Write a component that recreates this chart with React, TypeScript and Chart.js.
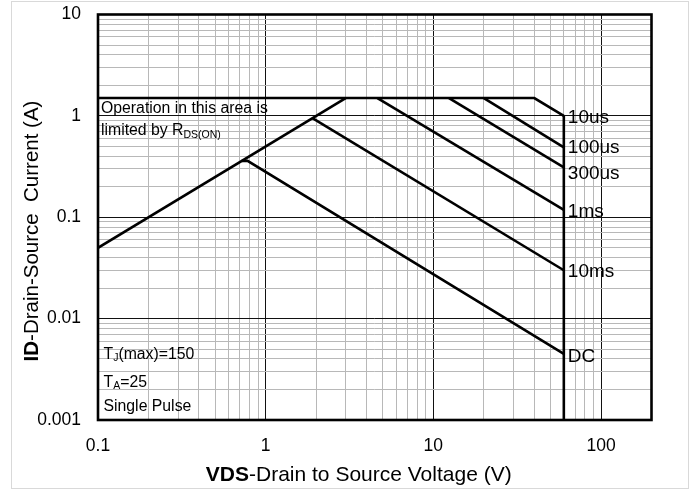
import React, { useEffect, useRef } from "react";
import { Chart, registerables } from "chart.js";

Chart.register(...registerables);

// ---- data ----
const xTickValues = [0.1, 1, 10, 100];
const xTickLabels = ["0.1", "1", "10", "100"];
const yTickValues = [0.001, 0.01, 0.1, 1, 10];
const yTickLabels = ["0.001", "0.01", "0.1", "1", "10"];

const rdsV = [0.1, 3.0];
const rdsI = [0.05, 1.5];
const us10V = [0.1, 40, 60];
const us10I = [1.5, 1.5, 1.0];
const us100V = [20, 60];
const us100I = [1.5, 0.49];
const us300V = [12.4, 60];
const us300I = [1.5, 0.31];
const ms1V = [4.64, 60];
const ms1I = [1.5, 0.118];
const ms10V = [1.9, 60];
const ms10I = [0.95, 0.03];
const dcV = [0.72, 0.78, 60];
const dcI = [0.36, 0.36, 0.0045];
const bvV = [60, 60];
const bvI = [1.0, 0.001];

const curveLabels = ["10us", "100us", "300us", "1ms", "10ms", "DC"];

const FONT = "'Liberation Sans', Arial, Helvetica, sans-serif";

function pts(v: number[], i: number[]) {
  return v.map((x, k) => ({ x, y: i[k] }));
}

function gridValues(min: number, max: number) {
  const out: number[] = [];
  const d0 = Math.floor(Math.log10(min) + 1e-9);
  const d1 = Math.ceil(Math.log10(max) - 1e-9);
  for (let d = d0; d <= d1; d++) {
    for (let m = 1; m <= 9; m++) {
      const v = m * Math.pow(10, d);
      if (v >= min * 0.999 && v <= max * 1.001) out.push(v);
    }
  }
  return out;
}

function isMajor(v: number) {
  const l = Math.log10(v);
  return Math.abs(l - Math.round(l)) < 1e-6;
}

function labelFor(values: number[], labels: string[], v: number) {
  for (let k = 0; k < values.length; k++) {
    if (Math.abs(values[k] - v) / values[k] < 1e-6) return labels[k];
  }
  return "";
}

export default function App() {
  const ref = useRef<HTMLCanvasElement | null>(null);

  useEffect(() => {
    document.body.style.margin = "0";
    const canvas = ref.current;
    if (!canvas) return;

    const seriesList = [
      { name: "", data: pts(rdsV, rdsI) },
      { name: curveLabels[0], data: pts(us10V, us10I) },
      { name: curveLabels[1], data: pts(us100V, us100I) },
      { name: curveLabels[2], data: pts(us300V, us300I) },
      { name: curveLabels[3], data: pts(ms1V, ms1I) },
      { name: curveLabels[4], data: pts(ms10V, ms10I) },
      { name: curveLabels[5], data: pts(dcV, dcI) },
      { name: "", data: pts(bvV, bvI) },
    ];

    const labelDy: Record<string, number> = {
      "10us": 2,
      "100us": 0,
      "300us": 6,
      "1ms": 2,
      "10ms": 2,
      DC: 3,
    };

    const decor = {
      id: "decor",
      beforeDraw(chart: any) {
        const { ctx, width, height } = chart;
        ctx.save();
        ctx.fillStyle = "#ffffff";
        ctx.fillRect(0, 0, width, height);
        ctx.strokeStyle = "#d9d9d9";
        ctx.lineWidth = 1;
        ctx.strokeRect(11.5, 1.5, 677, 487);
        ctx.restore();
      },
      afterDatasetsDraw(chart: any) {
        const { ctx, chartArea: a, scales } = chart;
        const xs = scales.x;
        const ys = scales.y;
        ctx.save();
        // plot border
        ctx.strokeStyle = "#000";
        ctx.lineWidth = 2.6;
        ctx.strokeRect(a.left, a.top, a.right - a.left, a.bottom - a.top);

        ctx.fillStyle = "#000";
        // curve labels
        ctx.font = `19px ${FONT}`;
        ctx.textAlign = "left";
        ctx.textBaseline = "middle";
        seriesList.forEach((s) => {
          if (!s.name) return;
          const last = s.data[s.data.length - 1];
          const px = xs.getPixelForValue(last.x) + 4;
          const py = ys.getPixelForValue(last.y) + (labelDy[s.name] || 0);
          ctx.fillText(s.name, px, py);
        });

        // annotations
        ctx.textBaseline = "alphabetic";
        const main = `15.8px ${FONT}`;
        const sub = `10.5px ${FONT}`;
        const drawRuns = (x: number, y: number, runs: [string, boolean][]) => {
          let cx = x;
          runs.forEach(([t, isSub]) => {
            ctx.font = isSub ? sub : main;
            ctx.fillText(t, cx, isSub ? y + 2.7 : y);
            cx += ctx.measureText(t).width;
          });
        };
        const ax = a.left + 3;
        drawRuns(ax, 113.3, [["Operation in this area is", false]]);
        drawRuns(ax, 135, [["limited by R", false], ["DS(ON)", true]]);
        drawRuns(ax + 2.5, 358.5, [["T", false], ["J", true], ["(max)=150", false]]);
        drawRuns(ax + 2.5, 386.7, [["T", false], ["A", true], ["=25", false]]);
        drawRuns(ax + 2.5, 410.7, [["Single Pulse", false]]);

        // axis titles
        const drawTitle = (b: string, r: string, cx: number, y: number, size: number) => {
          const bold = `bold ${size}px ${FONT}`;
          const reg = `${size}px ${FONT}`;
          ctx.font = bold;
          const wb = ctx.measureText(b).width;
          ctx.font = reg;
          const wr = ctx.measureText(r).width;
          const x0 = cx - (wb + wr) / 2;
          ctx.textAlign = "left";
          ctx.font = bold;
          ctx.fillText(b, x0, y);
          ctx.font = reg;
          ctx.fillText(r, x0 + wb, y);
        };
        drawTitle("VDS", "-Drain to Source Voltage (V)", (a.left + a.right) / 2 - 16, 481, 21);
        ctx.save();
        ctx.translate(38, 231);
        ctx.rotate(-Math.PI / 2);
        drawTitle("ID", "-Drain-Source  Current (A)", 0, 0, 20.5);
        ctx.restore();

        ctx.restore();
      },
    };

    const gridColor = (c: any) => {
      const v = c.tick ? c.tick.value : 1;
      return isMajor(v) ? "#111111" : "#b8b8b8";
    };

    const chart = new Chart(canvas, {
      type: "scatter",
      data: {
        datasets: seriesList.map((s) => ({
          label: s.name,
          data: s.data,
          showLine: true,
          borderColor: "#000",
          backgroundColor: "#000",
          borderWidth: 2.6,
          pointRadius: 0,
          borderJoinStyle: "miter" as const,
          tension: 0,
        })),
      },
      options: {
        animation: false,
        responsive: false,
        maintainAspectRatio: false,
        layout: { padding: { top: 14.5, right: 43.5, left: 0, bottom: 0 } },
        plugins: {
          legend: { display: false },
          tooltip: { enabled: false },
        },
        scales: {
          x: {
            type: "logarithmic",
            min: 0.1,
            max: 200,
            afterBuildTicks: (s: any) => {
              s.ticks = gridValues(0.1, 200).map((v) => ({ value: v }));
            },
            afterFit: (s: any) => {
              s.height = 71;
              s.paddingLeft = 0;
              s.paddingRight = 0;
            },
            ticks: {
              autoSkip: false,
              maxRotation: 0,
              padding: 16,
              color: "#000",
              font: { family: FONT, size: 17.5 },
              callback: (v: any) => labelFor(xTickValues, xTickLabels, Number(v)),
            },
            grid: { color: gridColor, lineWidth: 1, drawTicks: false },
            border: { display: false },
          },
          y: {
            type: "logarithmic",
            min: 0.001,
            max: 10,
            afterBuildTicks: (s: any) => {
              s.ticks = gridValues(0.001, 10).map((v) => ({ value: v }));
            },
            afterFit: (s: any) => {
              s.width = 98;
              s.paddingTop = 0;
              s.paddingBottom = 0;
            },
            ticks: {
              autoSkip: false,
              padding: 17,
              color: "#000",
              font: { family: FONT, size: 17.5 },
              callback: (v: any) => labelFor(yTickValues, yTickLabels, Number(v)),
            },
            grid: { color: gridColor, lineWidth: 1, drawTicks: false },
            border: { display: false },
          },
        },
      },
      plugins: [decor],
    } as any);

    return () => chart.destroy();
  }, []);

  return (
    <div style={{ width: 695, height: 491, position: "relative" }}>
      <canvas ref={ref} width={695} height={491} style={{ width: 695, height: 491, display: "block" }} />
    </div>
  );
}
